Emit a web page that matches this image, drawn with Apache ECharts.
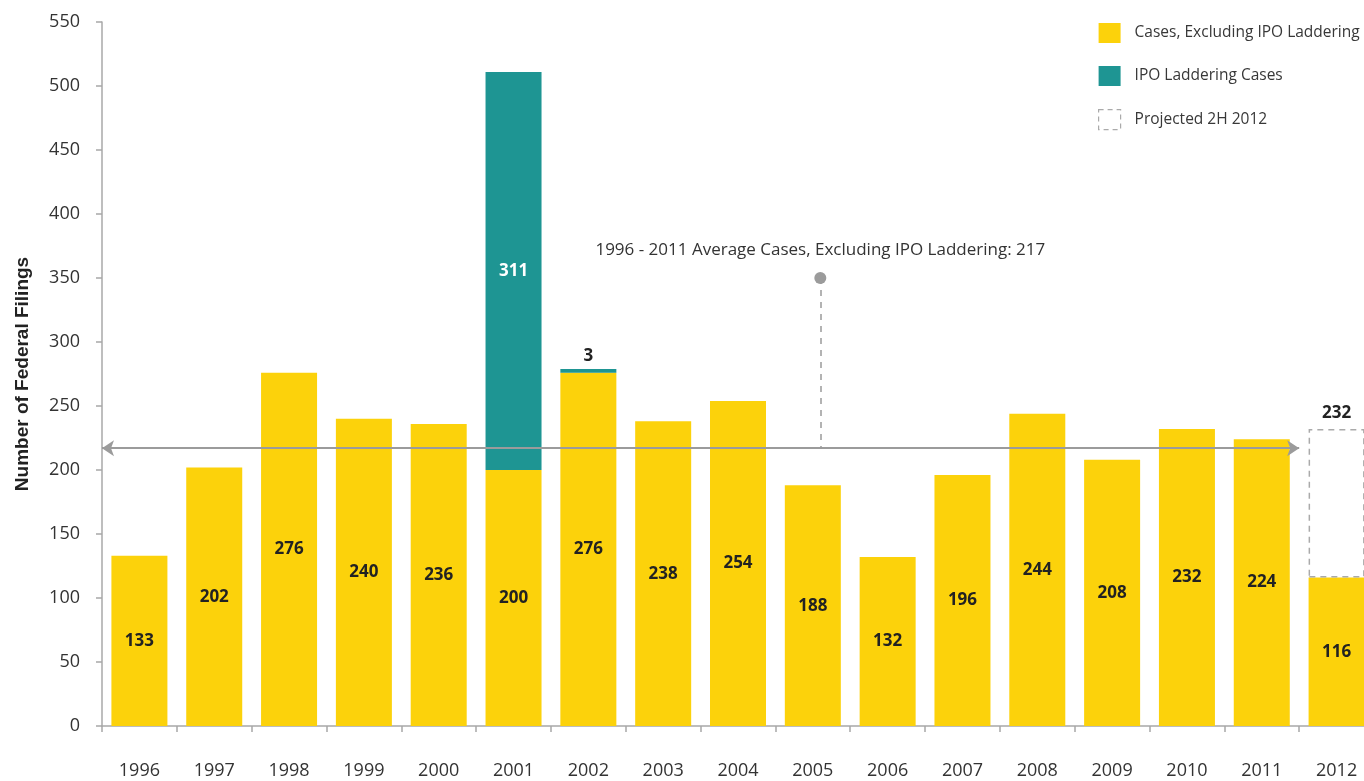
<!DOCTYPE html>
<html>
<head>
<meta charset="utf-8">
<script src="https://cdn.jsdelivr.net/npm/echarts@6/dist/echarts.min.js"></script>
<style>
  html, body { margin: 0; padding: 0; background: #fff; }
  #main { width: 1364px; height: 781px; }
</style>
</head>
<body>
<div id="main"></div>
<script>
// data
var years = ['1996', '1997', '1998', '1999', '2000', '2001', '2002', '2003', '2004',
  '2005', '2006', '2007', '2008', '2009', '2010', '2011', '2012'];
var baseCases = [133, 202, 276, 240, 236, 200, 276, 238, 254, 188, 132, 196, 244, 208, 232, 224, 116];
var iplCases = [null, null, null, null, null, 311, 3, null, null, null, null, null, null, null, null, null, null];
var projectedTotal = [null, null, null, null, null, null, null, null, null, null, null, null, null, null, null, null, 232];
var yTicks = [0, 550, 50]; // min, max, interval
var avgValue = 217;
var avgYears = 16; // 1996 - 2011
var avgNoteAt = [9.6, 350]; // where the note pin sits (category units, value)

var YELLOW = '#FCD20B';
var TEAL = '#1E9593';
var GREY = '#9b9b9b';
var FONT = 'Open Sans';

var iplData = iplCases.map(function (v) {
  if (v == null) return null;
  if (v < 20) {
    return { value: v, label: { position: 'top', color: '#222' } };
  }
  return v;
});

// dashed box on top of 2012, height = projected minus actual
var projData = projectedTotal.map(function (v, i) {
  return v == null ? null : v - baseCases[i];
});

var chart = echarts.init(document.getElementById('main'));
var option = {
  animation: false,
  textStyle: { fontFamily: FONT },
  grid: { left: 102, top: 22, height: 704, width: 1272, containLabel: false, outerBoundsMode: 'none' },
  legend: {
    orient: 'vertical',
    left: 1093,
    top: 18,
    itemWidth: 22,
    itemHeight: 20,
    itemGap: 23,
    icon: 'rect',
    selectedMode: false,
    textStyle: { fontSize: 15.5, color: '#383838', fontFamily: FONT, padding: [0, 0, 0, 9] },
    data: [
      'Cases, Excluding IPO Laddering',
      'IPO Laddering Cases',
      {
        name: 'Projected 2H 2012',
        itemStyle: { color: 'rgba(255,255,255,0)', borderColor: '#aaa', borderWidth: 1.2, borderType: [5, 4] }
      }
    ]
  },
  xAxis: [{
    type: 'category',
    data: years,
    axisLine: { lineStyle: { color: '#a8a8a8', width: 1.5 } },
    axisTick: { show: true, length: 6, lineStyle: { color: '#a8a8a8', width: 1.5 } },
    axisLabel: { color: '#333', fontSize: 18, margin: 36 }
  }, {
    type: 'value',
    min: 0,
    max: years.length,
    show: false
  }],
  yAxis: {
    type: 'value',
    min: yTicks[0],
    max: yTicks[1],
    interval: yTicks[2],
    name: 'Number of Federal Filings',
    nameLocation: 'middle',
    nameRotate: 90,
    nameGap: 70,
    nameTextStyle: { fontSize: 19, fontWeight: 'bold', color: '#222', fontFamily: 'Liberation Sans' },
    axisLine: { show: true, lineStyle: { color: '#a8a8a8', width: 1.5 } },
    axisTick: { show: true, length: 6, lineStyle: { color: '#a8a8a8', width: 1.5 } },
    axisLabel: { color: '#333', fontSize: 18, margin: 22 },
    splitLine: { show: false }
  },
  series: [{
    name: 'Cases, Excluding IPO Laddering',
    type: 'bar',
    stack: 'cases',
    barWidth: 56,
    itemStyle: { color: YELLOW },
    label: { show: true, position: 'inside', color: '#222', fontWeight: 'bold', fontSize: 17 },
    data: baseCases
  }, {
    name: 'IPO Laddering Cases',
    type: 'bar',
    stack: 'cases',
    barWidth: 56,
    itemStyle: { color: TEAL },
    label: { show: true, position: 'inside', color: '#fff', fontWeight: 'bold', fontSize: 17, distance: 4 },
    data: iplData
  }, {
    name: 'Projected 2H 2012',
    type: 'bar',
    stack: 'cases',
    barWidth: 56,
    itemStyle: { color: 'rgba(255,255,255,0)', borderColor: '#aaa', borderWidth: 1.5, borderType: [6, 5] },
    label: {
      show: true, position: 'top', color: '#222', fontWeight: 'bold', fontSize: 17, distance: 7,
      formatter: function (p) { return projectedTotal[p.dataIndex]; }
    },
    data: projData
  }, {
    name: 'avg',
    type: 'line',
    xAxisIndex: 1,
    yAxisIndex: 0,
    data: [],
    silent: true,
    markLine: {
      silent: true,
      animation: false,
      data: [
        [
          { coord: [0, avgValue], symbol: 'arrow', symbolSize: [12, 12] },
          { coord: [avgYears, avgValue], symbol: 'arrow', symbolSize: [12, 12] }
        ]
      ],
      lineStyle: { color: GREY, width: 2, type: 'solid' },
      label: { show: false }
    }
  }, {
    name: 'avgNote',
    type: 'line',
    xAxisIndex: 1,
    yAxisIndex: 0,
    data: [],
    silent: true,
    markLine: {
      silent: true,
      animation: false,
      symbol: ['circle', 'none'],
      symbolSize: 12,
      data: [[
        { coord: avgNoteAt },
        { coord: [avgNoteAt[0], avgValue] }
      ]],
      lineStyle: { color: GREY, width: 1.5, type: [6, 6] },
      label: {
        show: true,
        position: 'start',
        distance: 19,
        color: '#333',
        fontSize: 17,
        formatter: '1996 - 2011 Average Cases, Excluding IPO Laddering: ' + avgValue
      }
    }
  }]
};
chart.setOption(option);
</script>
</body>
</html>
